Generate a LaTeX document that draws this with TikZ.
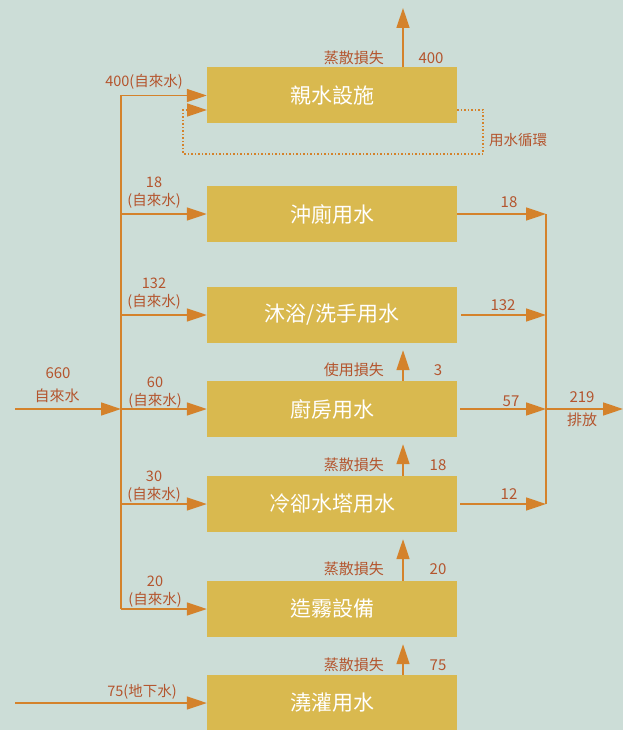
\documentclass[tikz,border=0pt]{standalone}
\usepackage{fontspec}
\setmainfont{Noto Sans CJK TC}
\usetikzlibrary{arrows.meta}
\definecolor{bg}{HTML}{CCDDD7}
\definecolor{boxc}{HTML}{D9B94F}
\definecolor{arr}{HTML}{D4822B}
\definecolor{lab}{HTML}{B4552E}
\begin{document}
\begin{tikzpicture}[x=1pt,y=-1pt,
 box/.style={fill=boxc, minimum width=250pt, minimum height=56pt, inner sep=0pt, text=white, font=\fontsize{21}{24}\selectfont},
 flow/.style={draw=arr, line width=1.5pt, -{Triangle[length=20pt,width=13pt]}},
 conn/.style={draw=arr, line width=1.5pt},
 lbl/.style={text=lab, font=\fontsize{15}{17}\selectfont, inner sep=0pt},
 slbl/.style={text=lab, font=\fontsize{14.5}{16}\selectfont, inner sep=0pt},
 ]
\fill[bg] (0,0) rectangle (623,730);
\useasboundingbox (0,0) rectangle (623,730);

% boxes
\node[box] (b1) at (332,95.5) {親水設施};
\node[box] (b2) at (332,214) {沖廁用水};
\node[box] (b3) at (332,315) {沐浴/洗手用水};
\node[box] (b4) at (332,409) {廚房用水};
\node[box] (b5) at (332,504) {冷卻水塔用水};
\node[box] (b6) at (332,609) {造霧設備};
\node[box] (b7) at (332,703) {澆灌用水};

% trunk coordinates
\coordinate (t1) at (121,95.5);
\coordinate (t2) at (121,214);
\coordinate (t3) at (121,315);
\coordinate (t4) at (121,409);
\coordinate (t5) at (121,504);
\coordinate (t6) at (121,609);
\coordinate (in) at (15,409);
\coordinate (gin) at (15,703);

\draw[conn] (t1) -- (t6);
\draw[flow] (in) -- (t4);
\foreach \i in {1,...,6} { \draw[flow] (t\i) -- (b\i.west); }
\draw[flow] (gin) -- (b7.west);

% recycle loop
\coordinate (dA) at (457,110);
\coordinate (dB) at (483,154);
\coordinate (dC) at (183,154);
\coordinate (dE) at (207,110);
\draw[draw=arr, line width=1.5pt, dotted, -{Triangle[length=20pt,width=13pt]}] (dA) -| (dB) -- (dC) |- (dE);
\node[slbl, anchor=west] (lrec) at (489,140) {用水循環};

% evaporation arrows
\coordinate (ux) at (403,0);
\coordinate (top) at (403,8);
\draw[flow] (b1.north -| ux) -- (top);
\draw[flow] (b4.north -| ux) -- ([yshift=-7pt]b3.south -| ux);
\draw[flow] (b5.north -| ux) -- ([yshift=-7pt]b4.south -| ux);
\draw[flow] (b6.north -| ux) -- ([yshift=-7pt]b5.south -| ux);
\draw[flow] (b7.north -| ux) -- ([yshift=-7pt]b6.south -| ux);

\node[lbl, anchor=east] (e1) at (384,58) {蒸散損失};
\node[lbl] (v1) at (431,58) {400};
\node[lbl, anchor=east] (e4) at (384,370) {使用損失};
\node[lbl] (v4) at (438,370) {3};
\node[lbl, anchor=east] (e5) at (384,465) {蒸散損失};
\node[lbl] (v5) at (438,465) {18};
\node[lbl, anchor=east] (e6) at (384,569) {蒸散損失};
\node[lbl] (v6) at (438,569) {20};
\node[lbl, anchor=east] (e7) at (384,665) {蒸散損失};
\node[lbl] (v7) at (438,665) {75};

% collector
\coordinate (c2) at (546,214);
\coordinate (c3) at (546,315);
\coordinate (c4) at (546,409);
\coordinate (c5) at (546,504);
\coordinate (out) at (623,409);
\draw[conn] (c2) -- (c5);
\draw[flow] (b2.east) -- (c2);
\draw[flow] ([xshift=4pt]b3.east) -- (c3);
\draw[flow] ([xshift=3pt]b4.east) -- (c4);
\draw[flow] ([xshift=3pt]b5.east) -- (c5);
\draw[flow] (c4) -- (out);

\node[lbl] (o2) at (509,202) {18};
\node[lbl] (o3) at (503,305) {132};
\node[lbl] (o4) at (511,401) {57};
\node[lbl] (o5) at (509,494) {12};
\node[lbl] (o6) at (582,397) {219};
\node[lbl] (o7) at (582,420) {排放};

% inputs labels
\node[lbl] (i0a) at (58,373) {660};
\node[lbl] (i0b) at (57,396) {自來水};
\node[slbl, anchor=east] (i1) at (183,82) {400(自來水)};
\node[slbl] (i2a) at (154,182) {18};
\node[slbl] (i2b) at (154,201) {(自來水)};
\node[slbl] (i3a) at (154,283) {132};
\node[slbl] (i3b) at (154,302) {(自來水)};
\node[slbl] (i4a) at (155,382) {60};
\node[slbl] (i4b) at (155,401) {(自來水)};
\node[slbl] (i5a) at (154,476) {30};
\node[slbl] (i5b) at (154,495) {(自來水)};
\node[slbl] (i6a) at (155,581) {20};
\node[slbl] (i6b) at (155,600) {(自來水)};
\node[slbl, anchor=east] (i7) at (177,692) {75(地下水)};
\end{tikzpicture}
\end{document}
